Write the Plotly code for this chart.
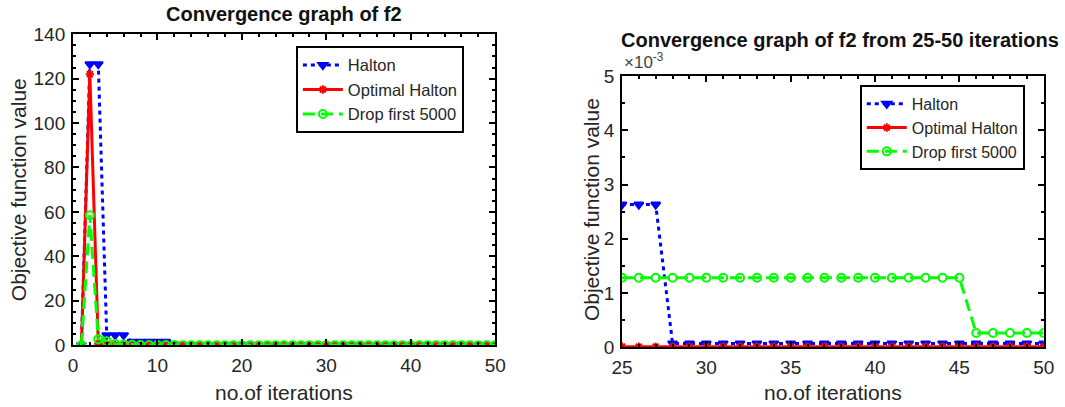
import plotly.graph_objects as go

iterations = list(range(1, 51))

halton = [0, 126.5, 126.5, 4.5, 4.5, 4.5, 1.5, 1.5, 1.5, 1.5, 1.5, 0.3,
          0.05, 0.05, 0.02, 0.02, 0.01, 0.01, 0.005, 0.005, 0.003, 0.003,
          0.00263, 0.00263, 0.00263, 0.00263, 0.00263] + [0.00007] * 23
optimal_halton = [0, 122, 0.6, 0.4, 0.1, 0.05, 0.02, 0.01, 0.005, 0.002,
                  0.001, 0.0005] + [0.00001] * 38
drop_first_5000 = [0, 58.5, 2.7, 1.8, 0.5, 0.3, 0.2, 0.1, 0.05, 0.03, 0.02,
                   0.01, 0.005, 0.003, 0.002, 0.0015, 0.0013, 0.0013, 0.0013,
                   0.0013, 0.0013, 0.0013, 0.0013, 0.0013] + [0.00128] * 21 + [0.00026] * 5

zoom_start = 25
zi = [i for i, x in enumerate(iterations) if x >= zoom_start]

left_xticks = [0, 10, 20, 30, 40, 50]
left_yticks = [0, 20, 40, 60, 80, 100, 120, 140]
right_xticks = [25, 30, 35, 40, 45, 50]
right_yticks = [0, 0.001, 0.002, 0.003, 0.004, 0.005]
right_yticktext = ["0", "1", "2", "3", "4", "5"]

series = [
    ("Halton", halton, "#0000ff", "4px,4px", "triangle-down", 8),
    ("Optimal Halton", optimal_halton, "#ff0000", "solid", "asterisk-open", 7),
    ("Drop first 5000", drop_first_5000, "#00ff00", "12px,6px", "circle-open", 8),
]

fig = go.Figure()
for name, vals, col, dash, sym, ms in series:
    fig.add_trace(go.Scatter(
        x=iterations, y=vals, name=name, mode="lines+markers",
        line=dict(color=col, width=3, dash=dash),
        marker=dict(symbol=sym, size=ms, color=col, line=dict(color=col, width=2)),
        xaxis="x", yaxis="y", legend="legend"))
for name, vals, col, dash, sym, ms in series:
    fig.add_trace(go.Scatter(
        x=[iterations[i] for i in zi], y=[vals[i] for i in zi], name=name,
        mode="lines+markers",
        line=dict(color=col, width=3, dash=dash),
        marker=dict(symbol=sym, size=ms, color=col, line=dict(color=col, width=2)),
        xaxis="x2", yaxis="y2", legend="legend2"))

font_family = "Liberation Sans, Arial, sans-serif"
axis_common = dict(
    showline=True, linecolor="black", linewidth=1.8, mirror="ticks",
    ticks="inside", ticklen=6, tickcolor="black", tickwidth=1.5,
    showgrid=False, zeroline=False, automargin=False,
    tickfont=dict(size=19, color="#262626", family=font_family),
)

fig.update_layout(
    width=1065, height=407,
    margin=dict(l=0, r=0, t=0, b=0),
    paper_bgcolor="white", plot_bgcolor="white",
    font=dict(family=font_family, color="#262626"),
    xaxis=dict(domain=[0.0685, 0.465], range=[0, 50], tickvals=left_xticks,
               minor=dict(dtick=2, ticks="inside", ticklen=3, tickcolor="black"),
               anchor="y", ticklabelstandoff=2, **axis_common),
    yaxis=dict(domain=[0.152, 0.916], range=[0, 140], tickvals=left_yticks,
               minor=dict(dtick=5, ticks="inside", ticklen=3, tickcolor="black"),
               anchor="x", ticklabelstandoff=2, **axis_common),
    xaxis2=dict(domain=[0.584, 0.980], range=[25, 50], tickvals=right_xticks,
                minor=dict(dtick=1, ticks="inside", ticklen=3, tickcolor="black"),
                anchor="y2", ticklabelstandoff=2, **axis_common),
    yaxis2=dict(domain=[0.147, 0.813], range=[0, 0.005], tickvals=right_yticks,
                ticktext=right_yticktext,
                minor=dict(dtick=0.0005, ticks="inside", ticklen=3, tickcolor="black"),
                anchor="x2", ticklabelstandoff=2, **axis_common),
    legend=dict(x=0.278, y=0.887, xanchor="left", yanchor="top",
                bordercolor="black", borderwidth=1.8, bgcolor="white",
                font=dict(size=16.5, color="#262626", family=font_family),
                tracegroupgap=0, itemwidth=40),
    legend2=dict(x=0.8075, y=0.791, xanchor="left", yanchor="top",
                 bordercolor="black", borderwidth=1.8, bgcolor="white",
                 font=dict(size=16, color="#262626", family=font_family),
                 tracegroupgap=0, itemwidth=40),
    annotations=[
        dict(text="<b>Convergence graph of f2</b>", x=0.267, y=1 - 14 / 407, xref="paper", yref="paper",
             xanchor="center", yanchor="middle", showarrow=False,
             font=dict(size=20, color="#111")),
        dict(text="<b>Convergence graph of f2 from 25-50 iterations</b>", x=0.789, y=1 - 40 / 407,
             xref="paper", yref="paper", xanchor="center", yanchor="middle", showarrow=False,
             font=dict(size=20, color="#111")),
        dict(text="×10<sup>-3</sup>", x=0.584, y=0.813, xref="paper", yref="paper",
             xanchor="left", yanchor="bottom", yshift=2, showarrow=False,
             font=dict(size=17, color="#444")),
        dict(text="no.of iterations", x=0.267, y=1 - 392 / 407, xref="paper", yref="paper",
             xanchor="center", yanchor="middle", showarrow=False, font=dict(size=21, color="#262626")),
        dict(text="no.of iterations", x=0.782, y=1 - 392 / 407, xref="paper", yref="paper",
             xanchor="center", yanchor="middle", showarrow=False, font=dict(size=21, color="#262626")),
        dict(text="Objective function value", x=0.017, y=0.533, xref="paper", yref="paper",
             xanchor="center", yanchor="middle", textangle=-90, showarrow=False,
             font=dict(size=21, color="#262626")),
        dict(text="Objective function value", x=0.555, y=0.484, xref="paper", yref="paper",
             xanchor="center", yanchor="middle", textangle=-90, showarrow=False,
             font=dict(size=21, color="#262626")),
    ],
)

fig.write_html("out.html", config={"displayModeBar": False},
               post_script="document.body.style.margin='0';document.body.style.overflow='hidden';")
